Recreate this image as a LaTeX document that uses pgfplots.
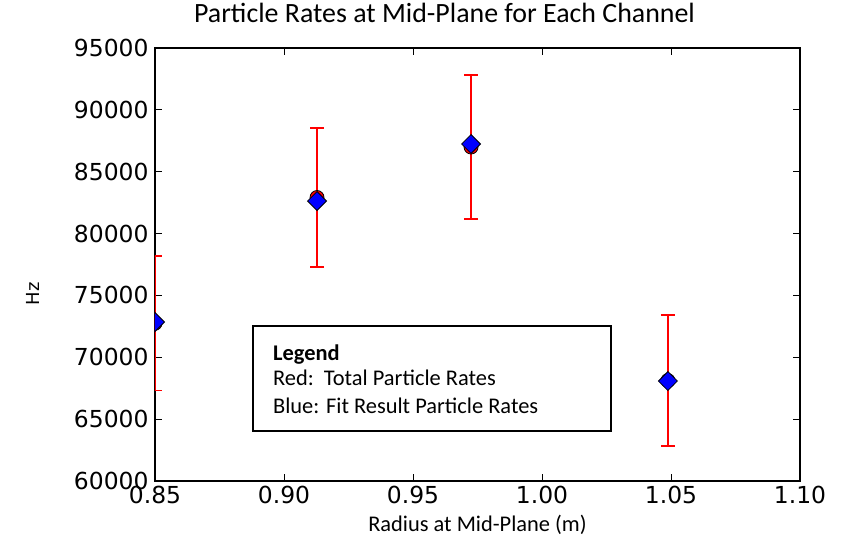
\documentclass[border=0pt]{standalone}
\usepackage{fontspec}
\setmainfont{Carlito}
\newfontfamily\dejavu{DejaVu Sans}
\usepackage{pgfplots}
\pgfplotsset{compat=1.18}

\begin{document}
\begin{tikzpicture}
\begin{axis}[
  at={(0,0)}, anchor=south west,
  scale only axis,
  width=645bp, height=433bp,
  xmin=0.85, xmax=1.10,
  ymin=60000, ymax=95000,
  xtick={0.85,0.90,0.95,1.00,1.05,1.10},
  ytick={60000,65000,70000,75000,80000,85000,90000,95000},
  tick align=inside,
  major tick length=7bp,
  xtick pos=both, ytick pos=both,
  axis line style={line width=1.2bp},
  tick style={line width=0.9bp, black},
  /pgf/number format/assume math mode=true,
  tick label style={font=\dejavu\fontsize{23.5}{23.5}\selectfont},
  x tick label style={/pgf/number format/fixed, /pgf/number format/fixed zerofill, /pgf/number format/precision=2, yshift=-2bp},
  y tick label style={/pgf/number format/fixed, /pgf/number format/set thousands separator={}, xshift=-3bp},
  scaled ticks=false,
  title={Particle Rates at Mid-Plane for Each Channel},
  title style={font=\fontsize{28}{28}\selectfont, at={(0.5,1)}, anchor=base, yshift=20bp, xshift=-33bp},
  xlabel={Radius at Mid-Plane (m)},
  xlabel style={font=\fontsize{22.5}{22.5}\selectfont, at={(0.5,0)}, anchor=base, yshift=-50bp},
  ylabel={Hz},
  ylabel style={font=\dejavu\fontsize{18}{18}\selectfont, at={(0,0.432)}, anchor=center, yshift=122bp},
  clip mode=individual,
  clip marker paths=true,
]
% total rates with statistical error bars
\addplot[
  only marks, mark=*, mark size=7bp,
  mark options={fill=red, draw=black, line width=0.8bp},
  error bars/.cd, y dir=both, y explicit,
  error bar style={red, line width=1.6bp},
  error mark options={red, line width=1.4bp, rotate=90, mark size=7bp},
] coordinates {
  (0.8500, 72750) +- (0, 5450)
  (0.9128, 82915) +- (0, 5620)
  (0.9725, 86995) +- (0, 5820)
  (1.0488, 68120) +- (0, 5300)
};
% fit result rates (square diamonds)
\addplot[
  only marks, mark=square*, mark size=6.7bp,
  mark options={fill=blue, draw=black, line width=0.8bp, rotate=45},
] coordinates {
  (0.8500, 72850)
  (0.9128, 82630)
  (0.9725, 87240)
  (1.0488, 68080)
};
% annotation box
\draw[line width=1.3bp, black] (axis cs:0.888,64040) rectangle (axis cs:1.0267,72528);
\node[anchor=base west, font=\bfseries\fontsize{22.5}{22.5}\selectfont, inner sep=0pt] at (axis cs:0.8957,69780) {Legend};
\node[anchor=base west, font=\fontsize{22.5}{22.5}\selectfont, inner sep=0pt] at (axis cs:0.8957,67680) {Red:\ \ Total Particle Rates};
\node[anchor=base west, font=\fontsize{22.5}{22.5}\selectfont, inner sep=0pt] at (axis cs:0.8957,65450) {Blue: Fit Result Particle Rates};
\end{axis}
\pgfresetboundingbox
\path (-155bp,-57bp) rectangle (691bp,481bp);
\end{tikzpicture}
\end{document}
